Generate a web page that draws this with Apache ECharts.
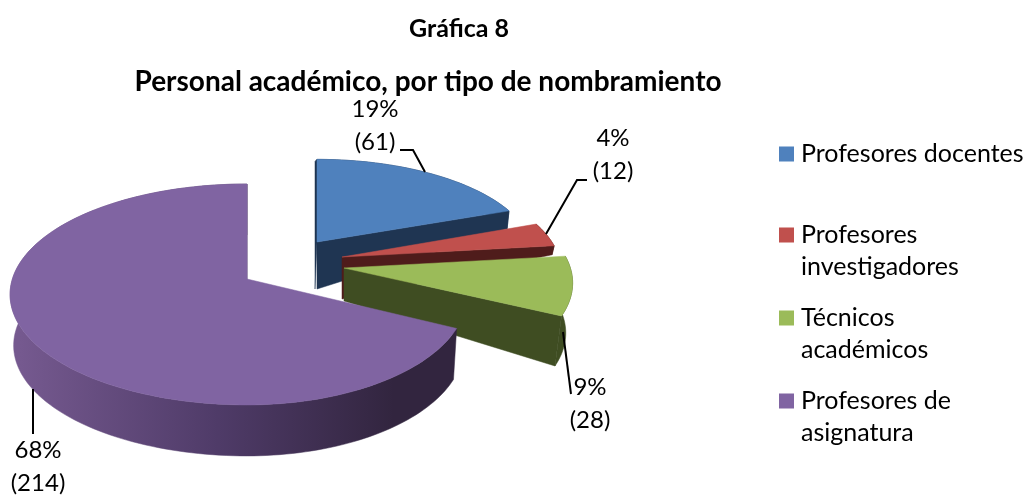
<!DOCTYPE html>
<html>
<head>
<meta charset="utf-8">
<script src="https://cdn.jsdelivr.net/npm/echarts@6/dist/echarts.min.js"></script>
<style>
html, body { margin: 0; background: #fff; }
#chart { width: 1024px; height: 496px; }
</style>
</head>
<body>
<div id="chart"></div>
<script>
const categories = ['Profesores docentes', 'Profesores investigadores', 'Técnicos académicos', 'Profesores de asignatura'];
const legendLines = ['Profesores docentes', 'Profesores\ninvestigadores', 'Técnicos\nacadémicos', 'Profesores de\nasignatura'];
const counts = [61, 12, 28, 214];
const topColors = ['#4f81bd', '#c0504d', '#9bbb59', '#8064a2'];
const wallColors = ['#1f3552', '#4f1c1b', '#3f4d22', null];
const purpleWall = [[0, '#75598f'], [0.45, '#4f3b68'], [0.85, '#32253f'], [1, '#32253f']];

const total = counts.reduce((a, b) => a + b, 0);

// the exploded slices do not share a centre, and the far ones are smaller
const sliceLayout = [
    { ax: 317, ay: 242, sx: 0.915, sy: 0.87, apexDepth: 47, rimDepth: 18, shrink: 0.99, edge: 2 },
    { ax: 342, ay: 257, sx: 0.925, sy: 0.92, apexDepth: 42, rimDepth: 9, shrink: 0.99, edge: 0 },
    { ax: 344, ay: 268, sx: 0.965, sy: 0.97, apexDepth: 33, rimDepth: 50, shrink: 0.97, edge: 0 },
    { ax: 247, ay: 279, sx: 1, sxRight: 0.93, sy: 1, apexDepth: 50, rimDepth: 51, shrink: 0.985, edge: 0 }
];
const labelLayout = [
    { x: 375, y: 126, line: [[400, 150], [413, 150], [425, 172]] },
    { x: 613, y: 155, line: [[587, 180], [577, 180], [546, 234]] },
    { x: 590, y: 404, line: [[563, 332], [571, 394]] },
    { x: 38, y: 467, line: [[33, 389], [33, 434]] }
];
const legendTops = [138, 219, 302, 385];

const RX = 234.6, RY = 108.3, PERSP = 0.14;

function rimPoint(deg, s) {
    const t = deg * Math.PI / 180;
    const v = -Math.cos(t);
    const w = 1 - PERSP * v;
    const sx = Math.sin(t) > 0 && s.sxRight ? s.sxRight : s.sx;
    return [s.ax + sx * RX * Math.sin(t) / w, s.ay + s.sy * RY * v / w];
}

function renderSlice(index, params, api) {
    const s = sliceLayout[index];
    const before = counts.slice(0, index).reduce((a, b) => a + b, 0);
    const start = before / total * 360;
    const end = start + api.value(0) / total * 360;

    const rim = [];
    for (let d = start; d < end; d += 1.5) rim.push(rimPoint(d, s));
    rim.push(rimPoint(end, s));

    const down = p => [s.ax + (p[0] - s.ax) * s.shrink, p[1] + s.rimDepth];
    const apexDown = [s.ax, s.ay + s.apexDepth];
    const last = rim[rim.length - 1];
    const wall = wallColors[index] || {
        type: 'linear', x: 20, y: 0, x2: 460, y2: 0, global: true,
        colorStops: purpleWall.map(c => ({ offset: c[0], color: c[1] }))
    };
    const poly = (points, fill) => ({
        type: 'polygon',
        shape: { points },
        style: { fill, stroke: fill, lineWidth: 0.5 }
    });

    const children = [
        poly(rim.concat(rim.map(down).reverse()), wall),
        poly([[s.ax, s.ay], last, down(last), apexDown], wall)
    ];
    if (s.edge) {
        children.push(poly([[s.ax, s.ay], rim[0], [rim[0][0] - s.edge, rim[0][1] + 2], [s.ax - s.edge, s.ay + s.apexDepth]], wall));
    }
    children.push(poly([[s.ax, s.ay]].concat(rim), topColors[index]));

    const lab = labelLayout[index];
    children.push({
        type: 'polyline',
        shape: { points: lab.line },
        style: { stroke: '#000', lineWidth: 2, fill: null }
    });
    children.push({
        type: 'text',
        style: {
            text: Math.round(api.value(0) / total * 100) + '%\n(' + api.value(0) + ')',
            x: lab.x, y: lab.y, align: 'center', verticalAlign: 'middle',
            fill: '#000', font: '24px Lato', lineHeight: 33
        }
    });
    return { type: 'group', children };
}

const chart = echarts.init(document.getElementById('chart'));
chart.setOption({
    backgroundColor: '#fff',
    animation: false,
    title: [
        { text: 'Gráfica 8', left: 454, top: 11, textAlign: 'center', textStyle: { fontFamily: 'Lato', fontSize: 25, fontWeight: 'bold', color: '#000' } },
        { text: 'Personal académico, por tipo de nombramiento', left: 423, top: 63, textAlign: 'center', textStyle: { fontFamily: 'Lato', fontSize: 28, fontWeight: 'bold', color: '#000' } }
    ],
    legend: categories.map((name, i) => {
        const twoLines = legendLines[i].includes('\n');
        return {
            data: [name],
            left: 779,
            top: legendTops[i],
            padding: 0,
            // square sits at the top of a taller icon box so it lines up with the first text line
            icon: twoLines ? 'path://M0,0H15V15H0Z M17,47L17,47Z' : 'path://M0,0H15V15H0Z M17,15L17,15Z',
            itemWidth: 17,
            itemHeight: twoLines ? 47 : 15,
            selectedMode: false,
            formatter: () => legendLines[i],
            textStyle: { fontFamily: 'Lato', fontSize: 25, color: '#000', lineHeight: 32 }
        };
    }),
    series: categories.map((name, i) => ({
        type: 'custom',
        name,
        coordinateSystem: 'none',
        itemStyle: { color: topColors[i] },
        data: [[counts[i]]],
        renderItem: (params, api) => renderSlice(i, params, api)
    }))
});
window.addEventListener('resize', () => chart.resize());
</script>
</body>
</html>
